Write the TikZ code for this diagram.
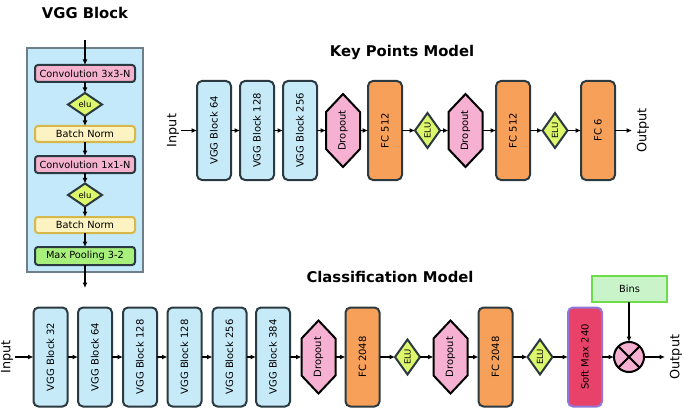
\documentclass[tikz,border=0pt]{standalone}
\usepackage{fontspec}
\setmainfont{DejaVu Sans}
\usetikzlibrary{shapes.geometric,arrows.meta}
\definecolor{dark}{HTML}{2B3A40}
\definecolor{vggfill}{HTML}{C6EAF8}
\definecolor{panelfill}{HTML}{C4E9FA}
\definecolor{panelline}{HTML}{6E7F87}
\definecolor{convfill}{HTML}{F4B2CF}
\definecolor{bnfill}{HTML}{FCF2C2}
\definecolor{bnline}{HTML}{D6B94A}
\definecolor{mpfill}{HTML}{A7F07C}
\definecolor{elufill}{HTML}{DDF76D}
\definecolor{fcfill}{HTML}{F7A05A}
\definecolor{dropfill}{HTML}{F6B0D2}
\definecolor{smfill}{HTML}{E8426B}
\definecolor{smline}{HTML}{8E79D8}
\definecolor{binsfill}{HTML}{C9F3C9}
\definecolor{binsline}{HTML}{6DDB4A}
\tikzset{
  every node/.style={inner sep=0pt, outer sep=0pt},
  arr/.style={-{Latex[length=5.5pt,width=5pt]}, line width=1.4pt, black},
  title/.style={font=\fontsize{14.8}{17}\selectfont\bfseries},
  io/.style={font=\fontsize{12.8}{15}\selectfont, rotate=90},
  hbox/.style={draw=dark, line width=2pt, rounded corners=3pt, minimum width=100pt, minimum height=17pt, font=\fontsize{9.8}{11}\selectfont},
  conv/.style={hbox, fill=convfill},
  bn/.style={hbox, draw=bnline, fill=bnfill, minimum height=16pt},
  mp/.style={hbox, fill=mpfill, minimum height=18pt},
  eluh/.style={diamond, draw=dark, fill=elufill, line width=2pt, minimum width=34pt, minimum height=23pt, font=\fontsize{8.5}{9}\selectfont},
  vbox/.style={draw=dark, line width=2pt, rounded corners=5pt, minimum width=34pt, minimum height=99pt, font=\fontsize{10}{11}\selectfont},
  vgg/.style={vbox, fill=vggfill},
  fc/.style={vbox, fill=fcfill},
  sm/.style={vbox, draw=smline, fill=smfill},
  eluv/.style={diamond, draw=dark, fill=elufill, line width=2pt, minimum width=25pt, minimum height=35pt, font=\fontsize{8.5}{9}\selectfont},
  drop/.style={minimum width=34pt, minimum height=73pt, font=\fontsize{10}{11}\selectfont},
  hexa/.style={draw=black, fill=dropfill, line width=2pt, line join=miter},
}
\newcommand\hexdraw[1]{%
  \draw[hexa] (#1.north) -- ([yshift=-18pt]#1.north east) -- ([yshift=18pt]#1.south east) -- (#1.south) -- ([yshift=18pt]#1.south west) -- ([yshift=-18pt]#1.north west) -- cycle;
  \node[drop] at (#1) {\rotatebox{90}{Dropout}};
}
\begin{document}
\begin{tikzpicture}[x=1pt,y=-1pt]
\useasboundingbox (0,0) rectangle (685,409);
% ---------- VGG Block panel ----------
\node[title] (tv) at (85,13) {VGG Block};
\draw[draw=panelline, fill=panelfill, line width=1.2pt] (27,48) rectangle (143,272);
\coordinate (vtop) at (85,40);
\coordinate (vbot) at (85,288);
\node[conv] (pc1) at (85,73.5) {Convolution 3x3-N};
\node[eluh] (pe1) at (85,104.5) {elu};
\node[bn] (pb1) at (85,134) {Batch Norm};
\node[conv] (pc2) at (85,164.5) {Convolution 1x1-N};
\node[eluh] (pe2) at (85,195) {elu};
\node[bn] (pb2) at (85,225) {Batch Norm};
\node[mp] (pm) at (85,256) {Max Pooling 3-2};
\draw[arr] (vtop) -- (pc1);
\draw[arr] (pc1) -- (pe1);
\draw[arr] (pe1) -- (pb1);
\draw[arr] (pb1) -- (pc2);
\draw[arr] (pc2) -- (pe2);
\draw[arr] (pe2) -- (pb2);
\draw[arr] (pb2) -- (pm);
\draw[arr] (pm) -- (vbot);
% ---------- Key Points Model ----------
\node[title] (tk) at (402,52) {Key Points Model};
\node[io] (kin) at (173,130.5) {Input};
\coordinate (ks) at (181,130.5);
\node[vgg] (k1) at (214,130.5) {\rotatebox{90}{VGG Block 64}};
\node[vgg] (k2) at (257,130.5) {\rotatebox{90}{VGG Block 128}};
\node[vgg] (k3) at (300,130.5) {\rotatebox{90}{VGG Block 256}};
\node[drop] (kd1) at (343,130.5) {};
\hexdraw{kd1}
\node[fc] (kf1) at (385,130.5) {\rotatebox{90}{FC 512}};
\node[eluv] (ke1) at (427.5,130.5) {\rotatebox{90}{ELU}};
\node[drop] (kd2) at (465.5,130.5) {};
\hexdraw{kd2}
\node[fc] (kf2) at (513,130.5) {\rotatebox{90}{FC 512}};
\node[eluv] (ke2) at (555,130.5) {\rotatebox{90}{ELU}};
\node[fc] (kf3) at (598,130.5) {\rotatebox{90}{FC 6}};
\coordinate (ke) at (632,130.5);
\node[io] (kout) at (643,130.5) {Output};
\draw[arr] (ks) -- (k1);
\draw[arr] (k1) -- (k2);
\draw[arr] (k2) -- (k3);
\draw[arr] (k3) -- (kd1);
\draw[arr] (kd1) -- (kf1);
\draw[arr] (kf1) -- (ke1);
\draw[arr] (ke1) -- (kd2);
\draw[arr] (kd2) -- (kf2);
\draw[arr] (kf2) -- (ke2);
\draw[arr] (ke2) -- (kf3);
\draw[arr] (kf3) -- (ke);
% ---------- Classification Model ----------
\node[title] (tc) at (390,277) {Classification Model};
\node[io] (cin) at (7,357) {Input};
\coordinate (cs) at (15,357);
\node[vgg] (c1) at (50.5,357) {\rotatebox{90}{VGG Block 32}};
\node[vgg] (c2) at (95,357) {\rotatebox{90}{VGG Block 64}};
\node[vgg] (c3) at (140,357) {\rotatebox{90}{VGG Block 128}};
\node[vgg] (c4) at (184.5,357) {\rotatebox{90}{VGG Block 128}};
\node[vgg] (c5) at (229.5,357) {\rotatebox{90}{VGG Block 256}};
\node[vgg] (c6) at (273,357) {\rotatebox{90}{VGG Block 384}};
\node[drop] (cd1) at (318.5,357) {};
\hexdraw{cd1}
\node[fc] (cf1) at (362.5,357) {\rotatebox{90}{FC 2048}};
\node[eluv] (ce1) at (407.5,357) {\rotatebox{90}{ELU}};
\node[drop] (cd2) at (450.5,357) {};
\hexdraw{cd2}
\node[fc] (cf2) at (495.5,357) {\rotatebox{90}{FC 2048}};
\node[eluv] (ce2) at (540,357) {\rotatebox{90}{ELU}};
\node[sm] (csm) at (585,357) {\rotatebox{90}{Soft Max 240}};
\node[circle, draw=black, fill=dropfill, line width=2pt, minimum size=30pt] (cm) at (629,357) {};
\draw[line width=2pt] (cm.north west) -- (cm.south east) (cm.north east) -- (cm.south west);
\node[draw=binsline, fill=binsfill, line width=2pt, minimum width=75pt, minimum height=26pt, font=\fontsize{9.8}{11}\selectfont] (bins) at (629.5,289) {Bins};
\coordinate (ce) at (665,357);
\node[io] (cout) at (676,357) {Output};
\draw[arr] (cs) -- (c1);
\draw[arr] (c1) -- (c2);
\draw[arr] (c2) -- (c3);
\draw[arr] (c3) -- (c4);
\draw[arr] (c4) -- (c5);
\draw[arr] (c5) -- (c6);
\draw[arr] (c6) -- (cd1);
\draw[arr] (cd1) -- (cf1);
\draw[arr] (cf1) -- (ce1);
\draw[arr] (ce1) -- (cd2);
\draw[arr] (cd2) -- (cf2);
\draw[arr] (cf2) -- (ce2);
\draw[arr] (ce2) -- (csm);
\draw[arr] (csm) -- (cm);
\draw[arr] (bins.south -| cm) -- (cm);
\draw[arr] (cm) -- (ce);
\end{tikzpicture}
\end{document}
